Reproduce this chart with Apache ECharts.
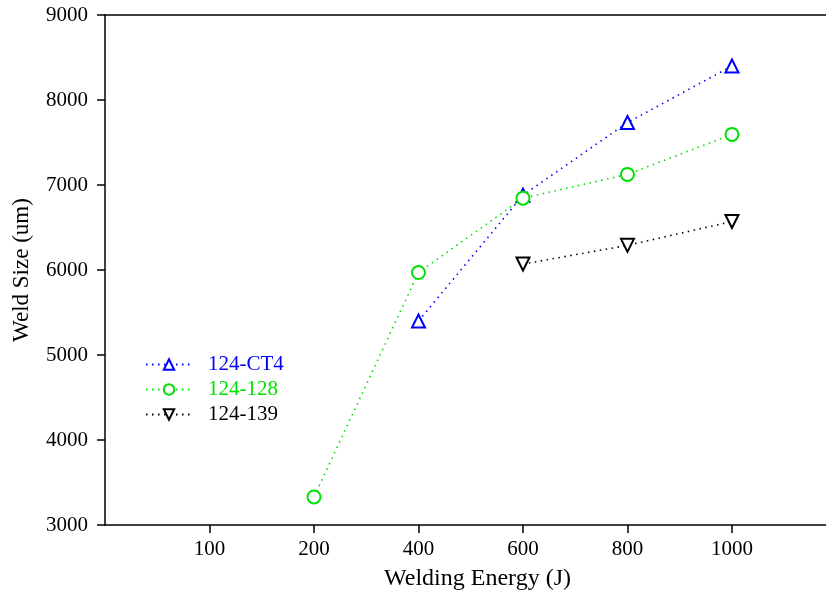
<!DOCTYPE html>
<html>
<head>
<meta charset="utf-8">
<script src="https://cdn.jsdelivr.net/npm/echarts@6/dist/echarts.min.js"></script>
<style>
  html, body { margin: 0; padding: 0; background: #fff; }
  #main { width: 826px; height: 599px; }
</style>
</head>
<body>
<div id="main"></div>
<script>
// x positions are evenly spaced slots, labelled by energy
var xLabels = ["", "100", "200", "400", "600", "800", "1000"];

var ct4 = [null, null, 5400, 6880, 7735, 8400];
var s128 = [null, 3330, 5970, 6845, 7125, 7595];
var s139 = [null, null, null, 6070, 6290, 6570];

var yTicks = [3000, 4000, 5000, 6000, 7000, 8000, 9000];

function toPoints(vals) {
  var out = [];
  vals.forEach(function (v, i) {
    if (v != null) out.push([i + 1, v]);
  });
  return out;
}

var font = "'Liberation Serif', 'Times New Roman', serif";
var chart = echarts.init(document.getElementById("main"));

function mk(name, color, symbol, rotate, vals) {
  return {
    name: name,
    type: "line",
    data: toPoints(vals),
    symbol: symbol,
    symbolSize: 13,
    symbolRotate: rotate,
    showSymbol: true,
    itemStyle: { color: "#fff", borderColor: color, borderWidth: 2 },
    lineStyle: { color: color, width: 1.6, type: [1.5, 4.5] },
    emphasis: { disabled: true },
    animation: false
  };
}

chart.setOption({
  animation: false,
  grid: { left: 105, right: 0, top: 15, bottom: 74, outerBoundsMode: "none", containLabel: false },
  legend: {
    left: 140,
    top: 349,
    orient: "vertical",
    itemGap: 4,
    itemWidth: 46,
    itemHeight: 13,
    textStyle: { fontFamily: font, fontSize: 21, padding: [0, 0, 0, 11] },
    data: [
      { name: "124-CT4", textStyle: { color: "#0000ff" } },
      { name: "124-128", textStyle: { color: "#00e000" } },
      { name: "124-139", textStyle: { color: "#000" } }
    ]
  },
  xAxis: [
    {
      type: "value",
      min: 0,
      max: 6.9,
      interval: 1,
      name: "Welding Energy (J)",
      nameLocation: "middle",
      nameGap: 42,
      nameTextStyle: { fontFamily: font, fontSize: 24, color: "#000", padding: [0, 0, 0, 24] },
      axisLine: { show: true, onZero: false, lineStyle: { color: "#000", width: 1.5 } },
      axisTick: { show: true, length: 8, customValues: [1, 2, 3, 4, 5, 6], lineStyle: { color: "#000", width: 1.5 } },
      axisLabel: {
        fontFamily: font, fontSize: 21, color: "#000", margin: 14,
        customValues: [1, 2, 3, 4, 5, 6],
        formatter: function (v) { return xLabels[Math.round(v)] || ""; }
      },
      splitLine: { show: false }
    },
    {
      type: "value",
      position: "top",
      min: 0,
      max: 6.9,
      axisLine: { show: true, onZero: false, lineStyle: { color: "#000", width: 1.5 } },
      axisTick: { show: false },
      axisLabel: { show: false },
      splitLine: { show: false }
    }
  ],
  yAxis: {
    type: "value",
    min: yTicks[0],
    max: yTicks[yTicks.length - 1],
    interval: 1000,
    name: "Weld Size (um)",
    nameLocation: "middle",
    nameGap: 72,
    nameTextStyle: { fontFamily: font, fontSize: 23, color: "#000" },
    axisLine: { show: true, lineStyle: { color: "#000", width: 1.5 } },
    axisTick: { show: true, length: 8, lineStyle: { color: "#000", width: 1.5 } },
    axisLabel: {
      fontFamily: font, fontSize: 21, color: "#000", margin: 17,
      formatter: function (v) { return String(v); }
    },
    splitLine: { show: false }
  },
  series: [
    mk("124-CT4", "#0000ff", "triangle", 0, ct4),
    mk("124-128", "#00e000", "circle", 0, s128),
    mk("124-139", "#000000", "triangle", 180, s139)
  ]
});
</script>
</body>
</html>
